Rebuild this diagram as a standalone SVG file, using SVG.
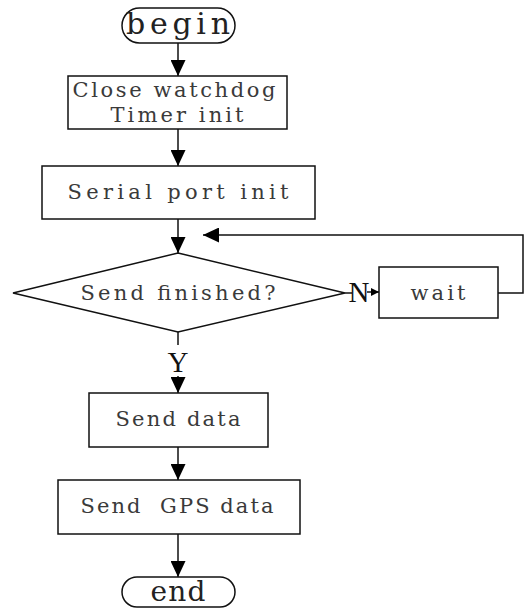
<svg xmlns="http://www.w3.org/2000/svg" width="526" height="615" viewBox="0 0 526 615">
  <defs>
    <marker id="arrow" viewBox="0 0 16 15" refX="16" refY="7.5" markerWidth="16" markerHeight="15" markerUnits="userSpaceOnUse" orient="auto">
      <path d="M0,0 L16,7.5 L0,15 Z" fill="#000"/>
    </marker>
    <marker id="arrowSmall" viewBox="0 0 8 8" refX="8" refY="4" markerWidth="8" markerHeight="8" markerUnits="userSpaceOnUse" orient="auto">
      <path d="M0,0 L8,4 L0,8 Z" fill="#000"/>
    </marker>
  </defs>
  <style>
    .shape { fill: #fff; stroke: #111; stroke-width: 1.5; }
    .line { fill: none; stroke: #111; stroke-width: 1.5; }
    .label { font-family: "DejaVu Serif", "Liberation Serif", serif; font-size: 21px; fill: #3a3a3a; text-anchor: middle; white-space: pre; }
    .term { font-family: "DejaVu Serif", "Liberation Serif", serif; fill: #222; text-anchor: middle; }
    .yn { font-family: "Liberation Serif", "Times New Roman", serif; font-size: 29px; fill: #111; text-anchor: middle; }
  </style>
  <rect width="526" height="615" fill="#fff"/>

  <g id="connectors">
    <line class="line" x1="178" y1="43" x2="178" y2="76" marker-end="url(#arrow)"/>
    <line class="line" x1="178" y1="129" x2="178" y2="166" marker-end="url(#arrow)"/>
    <line class="line" x1="178" y1="219" x2="178" y2="253" marker-end="url(#arrow)"/>
    <line class="line" x1="345" y1="293" x2="352" y2="293"/>
    <line class="line" x1="367" y1="292" x2="379" y2="292" marker-end="url(#arrowSmall)"/>
    <polyline class="line" points="498,293 523,293 523,235 203,235" marker-end="url(#arrow)"/>
    <line class="line" x1="178" y1="332" x2="178" y2="345"/>
    <line class="line" x1="178" y1="376" x2="178" y2="393" marker-end="url(#arrow)"/>
    <line class="line" x1="178" y1="447" x2="178" y2="480" marker-end="url(#arrow)"/>
    <line class="line" x1="178" y1="534" x2="178" y2="577" marker-end="url(#arrow)"/>
    <text class="yn" x="359" y="302">N</text>
    <text class="yn" x="178" y="372">Y</text>
  </g>

  <g id="begin">
    <rect class="shape" x="122" y="8" width="113" height="35" rx="17.5"/>
    <text class="term" x="178" y="34" font-size="30" textLength="104" lengthAdjust="spacing">begin</text>
  </g>

  <g id="init">
    <rect class="shape" x="68" y="76" width="219" height="53"/>
    <text class="label" x="174" y="97" textLength="203" lengthAdjust="spacing">Close watchdog</text>
    <text class="label" x="177" y="122" textLength="133" lengthAdjust="spacing">Timer init</text>
  </g>

  <g id="serial">
    <rect class="shape" x="42" y="166" width="273" height="53"/>
    <text class="label" x="178" y="199" textLength="221" lengthAdjust="spacing">Serial port init</text>
  </g>

  <g id="check">
    <polygon class="shape" points="178,253 345,293 178,332 13,293"/>
    <text class="label" x="178" y="300" textLength="195" lengthAdjust="spacing">Send finished?</text>
  </g>

  <g id="wait">
    <rect class="shape" x="379" y="267" width="119" height="51"/>
    <text class="label" x="438" y="300" textLength="55" lengthAdjust="spacing">wait</text>
  </g>

  <g id="send-data">
    <rect class="shape" x="89" y="393" width="179" height="54"/>
    <text class="label" x="178" y="426" textLength="125" lengthAdjust="spacing">Send data</text>
  </g>

  <g id="send-gps">
    <rect class="shape" x="58" y="480" width="242" height="54"/>
    <text class="label" x="177" y="513" textLength="193" lengthAdjust="spacing" xml:space="preserve">Send  GPS data</text>
  </g>

  <g id="end">
    <rect class="shape" x="122" y="577" width="113" height="30" rx="15"/>
    <text class="term" x="178" y="601" font-size="28" textLength="55" lengthAdjust="spacing">end</text>
  </g>
</svg>
